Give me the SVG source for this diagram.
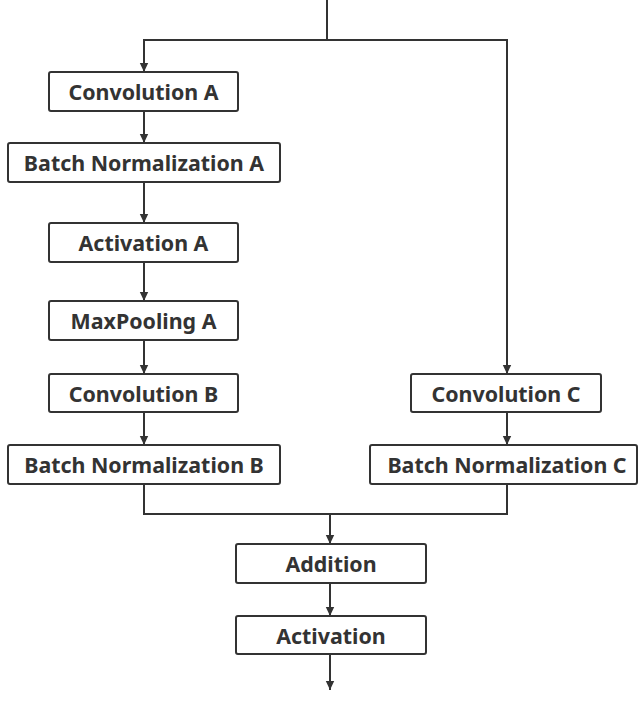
<svg xmlns="http://www.w3.org/2000/svg" width="640" height="701" viewBox="0 0 640 701">
  <style>
    .box { fill: #ffffff; stroke: #333333; stroke-width: 2; }
    .lbl { font-family: "Noto Sans", "Open Sans", "DejaVu Sans", sans-serif; font-weight: bold; font-size: 21.4px; fill: #333333; text-anchor: middle; dominant-baseline: central; }
    .wire { fill: none; stroke: #333333; stroke-width: 2; }
  </style>
  <defs>
    <marker id="arrow" markerWidth="10" markerHeight="10" refX="9" refY="5" orient="auto" markerUnits="userSpaceOnUse">
      <path d="M0,0.8 L9,5 L0,9.2 z" fill="#333333"/>
    </marker>
  </defs>
  <rect width="640" height="701" fill="#ffffff"/>

  <g id="connectors">
    <path class="wire" d="M327,0 V40"/>
    <path class="wire" d="M507,40 H144 V72" marker-end="url(#arrow)"/>
    <path class="wire" d="M327,40 H507 V374" marker-end="url(#arrow)"/>
    <path class="wire" d="M144,111 V143" marker-end="url(#arrow)"/>
    <path class="wire" d="M144,182 V223" marker-end="url(#arrow)"/>
    <path class="wire" d="M144,262 V301" marker-end="url(#arrow)"/>
    <path class="wire" d="M144,340 V374" marker-end="url(#arrow)"/>
    <path class="wire" d="M144,412 V445" marker-end="url(#arrow)"/>
    <path class="wire" d="M507,412 V445" marker-end="url(#arrow)"/>
    <path class="wire" d="M144,484 V514 H507 V484"/>
    <path class="wire" d="M330,514 V544" marker-end="url(#arrow)"/>
    <path class="wire" d="M330,583 V616" marker-end="url(#arrow)"/>
    <path class="wire" d="M330,654 V690" marker-end="url(#arrow)"/>
  </g>

  <g id="conv-a">
    <rect class="box" x="49" y="72" width="189" height="39" rx="2"/>
    <text class="lbl" x="143.5" y="91.5">Convolution A</text>
  </g>
  <g id="bn-a">
    <rect class="box" x="8" y="143" width="272" height="39" rx="2"/>
    <text class="lbl" x="144" y="162.5">Batch Normalization A</text>
  </g>
  <g id="act-a">
    <rect class="box" x="49" y="223" width="189" height="39" rx="2"/>
    <text class="lbl" x="143.5" y="242.5">Activation A</text>
  </g>
  <g id="pool-a">
    <rect class="box" x="49" y="301" width="189" height="39" rx="2"/>
    <text class="lbl" x="143.5" y="320.5">MaxPooling A</text>
  </g>
  <g id="conv-b">
    <rect class="box" x="49" y="374" width="189" height="38" rx="2"/>
    <text class="lbl" x="143.5" y="393">Convolution B</text>
  </g>
  <g id="bn-b">
    <rect class="box" x="8" y="445" width="272" height="39" rx="2"/>
    <text class="lbl" x="144" y="464.5">Batch Normalization B</text>
  </g>
  <g id="conv-c">
    <rect class="box" x="411" y="374" width="190" height="38" rx="2"/>
    <text class="lbl" x="506" y="393">Convolution C</text>
  </g>
  <g id="bn-c">
    <rect class="box" x="370" y="445" width="267" height="39" rx="2"/>
    <text class="lbl" x="507" y="464.5">Batch Normalization C</text>
  </g>
  <g id="addition">
    <rect class="box" x="236" y="544" width="190" height="39" rx="2"/>
    <text class="lbl" x="331" y="563.5">Addition</text>
  </g>
  <g id="activation">
    <rect class="box" x="236" y="616" width="190" height="38" rx="2"/>
    <text class="lbl" x="331" y="635">Activation</text>
  </g>
</svg>
